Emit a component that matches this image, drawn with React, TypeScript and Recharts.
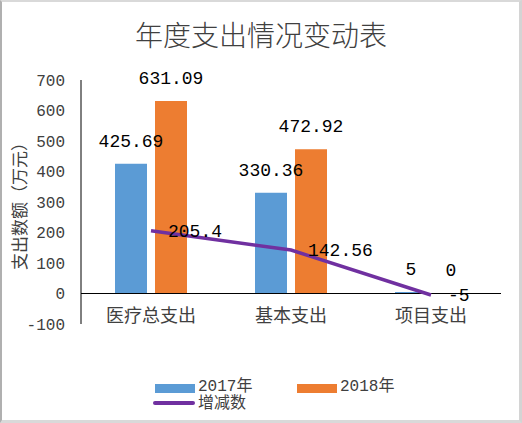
import { ComposedChart, Bar, Line, XAxis, YAxis, ReferenceLine, LabelList, Legend } from "recharts";

const categories = ["医疗总支出", "基本支出", "项目支出"];
const values2017 = [425.69, 330.36, 5];
const values2018 = [631.09, 472.92, 0];
const changes = [205.4, 142.56, -5];
const yTicks = [-100, 0, 100, 200, 300, 400, 500, 600, 700];

const seriesNames = { y2017: "2017年", y2018: "2018年", change: "增减数" };

const data = categories.map((name, i) => ({
  name,
  y2017: values2017[i],
  y2018: values2018[i],
  change: changes[i],
}));

const MONO = "'Liberation Mono', 'Noto Sans CJK SC', monospace";
const CJK = "'Noto Sans CJK SC', sans-serif";

function CategoryTick({ x, y, payload }: any) {
  return (
    <text x={x} y={y} dy={-2} textAnchor="middle" fontSize={18} fill="#404040" fontFamily={CJK}>
      {payload.value}
    </text>
  );
}

function AxisTitle({ viewBox }: any) {
  const cx = 18;
  const cy = viewBox.y + viewBox.height / 2;
  return (
    <text
      x={cx}
      y={cy}
      transform={`rotate(-90, ${cx}, ${cy})`}
      textAnchor="middle"
      dominantBaseline="central"
      fontSize={17}
      fill="#404040"
      fontFamily={CJK}
    >
      支出数额（万元）
    </text>
  );
}

// bar value label drawn above the bar top, also for zero-height bars
function BarValue(props: any) {
  const { x, y, width, height, value } = props;
  if (x == null || y == null) return null;
  const top = Math.min(y, y + (height || 0));
  return (
    <text x={x + width / 2} y={top - 17} textAnchor="middle" fontSize={18} fill="#000" fontFamily={MONO}>
      {value}
    </text>
  );
}

function ChartLegend() {
  const text = { position: "absolute" as const, fontSize: 16, lineHeight: "18px", color: "#404040", fontFamily: MONO };
  return (
    <div style={{ position: "relative", width: 522, height: 40 }}>
      <div style={{ position: "absolute", left: 155, top: 9, width: 40, height: 9, background: "#5B9BD5" }} />
      <div style={{ ...text, left: 198, top: 3 }}>{seriesNames.y2017}</div>
      <div style={{ position: "absolute", left: 297, top: 9, width: 40, height: 9, background: "#ED7D31" }} />
      <div style={{ ...text, left: 340, top: 3 }}>{seriesNames.y2018}</div>
      <div style={{ position: "absolute", left: 153, top: 26, width: 42, height: 4, borderRadius: 2, background: "#7030A0" }} />
      <div style={{ ...text, left: 198, top: 20 }}>{seriesNames.change}</div>
    </div>
  );
}

export default function App() {
  return (
    <div style={{ position: "absolute", left: 0, top: 0, width: 522, height: 423, background: "#fff" }}>
      <div
        style={{
          position: "absolute",
          left: 0,
          top: 18,
          width: 522,
          textAlign: "center",
          fontSize: 28,
          lineHeight: "32px",
          color: "#404040",
          fontFamily: CJK,
          fontWeight: 300,
        }}
      >
        年度支出情况变动表
      </div>
      <ComposedChart
        width={522}
        height={423}
        data={data}
        margin={{ top: 80, right: 21, bottom: 8, left: 0 }}
        barCategoryGap={34}
        barGap={8}
      >
        <XAxis
          dataKey="name"
          axisLine={false}
          tickLine={false}
          tickSize={0}
          tickMargin={0}
          height={51}
          tick={<CategoryTick />}
          interval={0}
        />
        <YAxis
          width={81}
          domain={[-100, 700]}
          ticks={yTicks}
          interval={0}
          tickLine={false}
          tickSize={0}
          tickMargin={16}
          axisLine={{ stroke: "#000" }}
          tick={{ fontSize: 16, fill: "#404040", fontFamily: MONO }}
          label={<AxisTitle />}
        />
        <ReferenceLine y={0} stroke="#000" strokeWidth={1} />
        <Bar dataKey="y2017" name={seriesNames.y2017} fill="#5B9BD5" minPointSize={0.3} isAnimationActive={false}>
          <LabelList dataKey="y2017" content={BarValue} />
        </Bar>
        <Bar dataKey="y2018" name={seriesNames.y2018} fill="#ED7D31" minPointSize={0.3} isAnimationActive={false}>
          <LabelList dataKey="y2018" content={BarValue} />
        </Bar>
        <Line
          dataKey="change"
          name={seriesNames.change}
          type="linear"
          stroke="#7030A0"
          strokeWidth={3.5}
          dot={false}
          activeDot={false}
          isAnimationActive={false}
        >
          <LabelList dataKey="change" position="right" offset={17} fontSize={18} fill="#000" fontFamily={MONO} />
        </Line>
        <Legend
          verticalAlign="bottom"
          content={<ChartLegend />}
          wrapperStyle={{ left: 0, bottom: 8, width: 522, height: 40 }}
        />
      </ComposedChart>
      <div
        style={{
          position: "absolute",
          left: 0,
          top: 0,
          width: 522,
          height: 423,
          boxSizing: "border-box",
          borderTop: "2px solid #d9d9d9",
          borderRight: "3px solid #d4d4d4",
          borderBottom: "3px solid #d9d9d9",
          borderLeft: "2px solid #b0b0b0",
          pointerEvents: "none",
        }}
      />
    </div>
  );
}
